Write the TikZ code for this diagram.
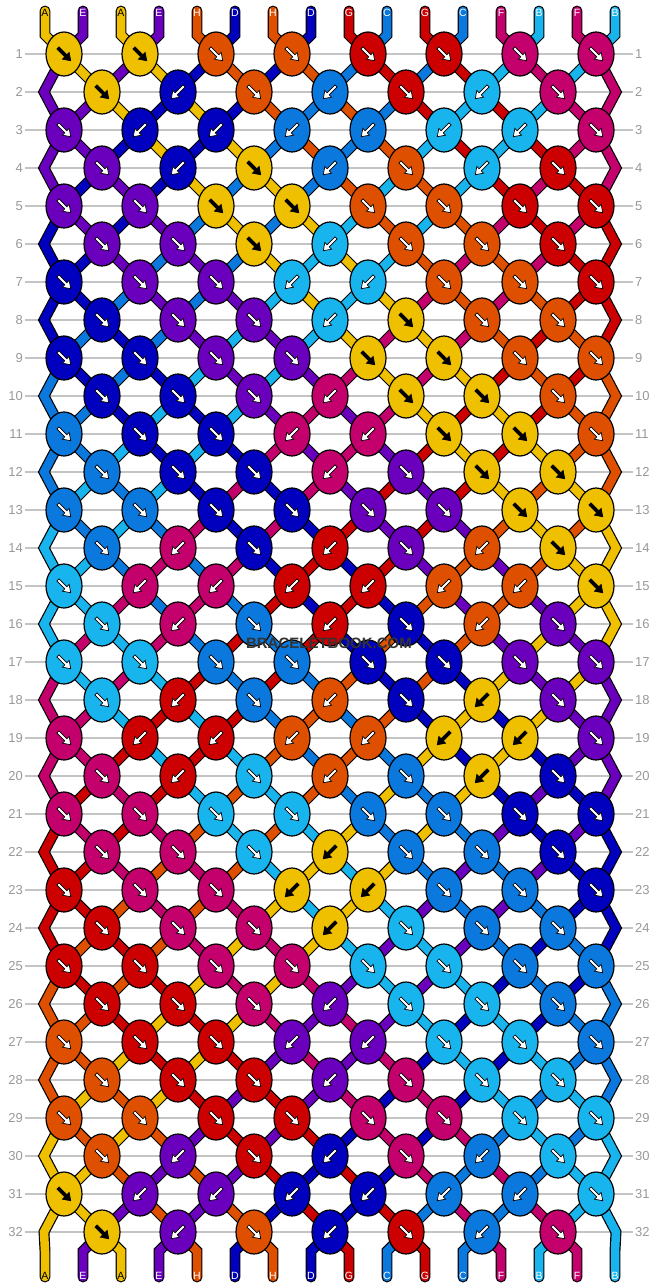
\documentclass[tikz,border=0pt]{standalone}
\usepackage{fontspec}
\setmainfont{Liberation Sans}
\usetikzlibrary{shapes.geometric}

\definecolor{col0}{HTML}{EFC000} % A
\definecolor{col1}{HTML}{DE5000} % H
\definecolor{col2}{HTML}{CC0000} % G
\definecolor{col3}{HTML}{C4006C} % F
\definecolor{col4}{HTML}{18B4EE} % B
\definecolor{col5}{HTML}{0A78DC} % C
\definecolor{col6}{HTML}{0000BE} % D
\definecolor{col7}{HTML}{6A00BE} % E
\definecolor{gridgray}{HTML}{C4C4C4}
\definecolor{numgray}{HTML}{999999}
\definecolor{markgray}{HTML}{333333}

\tikzset{
	strand/.style={draw=black, double=#1, double distance=8.5pt, line width=1.2pt, line cap=round},
	knot/.style={ellipse, draw=black, line width=1.2pt, minimum width=36pt, minimum height=44pt, inner sep=0pt},
	rownum/.style={font=\fontsize{13}{13}\selectfont, text=numgray, inner sep=2pt},
	rowline/.style={gridgray, line width=1.3pt},
	endlabel/.style={font=\fontsize{10.5}{10.5}\selectfont, inner sep=0pt},
	karrow/.pic={\path[pic actions, draw=black, line width=0.7pt] (-8.5,-1.5) -- (2.5,-1.5) -- (2.5,-4.8) -- (9.5,0) -- (2.5,4.8) -- (2.5,1.5) -- (-8.5,1.5) -- cycle;}
}

\begin{document}
\begin{tikzpicture}[x=1pt, y=-1pt]
	\useasboundingbox[fill=white] (0,0) rectangle (658,1288);

	% row numbers and guide lines
	\foreach \row in {1,...,32} {
		\node[rownum, anchor=east] (nl-\row) at (25,{54+38*(\row-1)}) {\row};
		\node[rownum, anchor=west] (nr-\row) at (633,{54+38*(\row-1)}) {\row};
		\draw[rowline] (nl-\row) -- (nr-\row);
	}

	% knot places, 0 and 16 are the turns at the edges
	\foreach \row in {1,...,32}
		\foreach \i in {0,...,16}
			\coordinate (g-\row-\i) at ({max(44,min(616,26+38*\i))},{54+38*(\row-1)});

	\foreach \sn in {1,...,16} {
		\coordinate (st-\sn) at ({45+38*(\sn-1)},11);
		\coordinate (sd-\sn) at ({45+38*(\sn-1)},35);
		\coordinate (bd-\sn) at ({45+38*(\sn-1)},1251);
		\coordinate (bt-\sn) at ({45+38*(\sn-1)},1277);
	}

	% strings: number / phase / colour / letter / letter colour
	\foreach \sn/\uo/\cl/\lab/\tc in {1/0/0/A/black, 2/30/7/E/white, 3/2/0/A/black, 4/28/7/E/white, 5/4/1/H/white, 6/26/6/D/white, 7/6/1/H/white, 8/24/6/D/white, 9/8/2/G/white, 10/22/5/C/white, 11/10/2/G/white, 12/20/5/C/white, 13/12/3/F/white, 14/18/4/B/white, 15/14/3/F/white, 16/16/4/B/white} {
		\draw[strand=col\cl] (st-\sn) -- (sd-\sn)
			\foreach \row [evaluate=\row as \i using {int(min(mod(\uo+\row-1,32),30-mod(\uo+\row-1,32))+1)}] in {1,...,32} { -- (g-\row-\i) }
			-- (bd-\sn) -- (bt-\sn);
		\node[endlabel, text=\tc, yshift=-2pt] (lt-\sn) at (st-\sn) {\lab};
		\node[endlabel, text=\tc, yshift=1pt] (lb-\sn) at (bt-\sn) {\lab};
	}

	% knots, r = forward, l = backward
	\foreach \row/\dirs in {
		1/{r,r,r,r,r,r,r,r}, 2/{r,l,r,l,r,l,r}, 3/{r,l,l,l,l,l,l,r}, 4/{r,l,r,l,r,l,r},
		5/{r,r,r,r,r,r,r,r}, 6/{r,r,r,l,r,r,r}, 7/{r,r,r,l,l,r,r,r}, 8/{r,r,r,l,r,r,r},
		9/{r,r,r,r,r,r,r,r}, 10/{r,r,r,l,r,r,r}, 11/{r,r,r,l,l,r,r,r}, 12/{r,r,r,l,r,r,r},
		13/{r,r,r,r,r,r,r,r}, 14/{r,l,r,l,r,l,r}, 15/{r,l,l,l,l,l,l,r}, 16/{r,l,r,l,r,l,r},
		17/{r,r,r,r,r,r,r,r}, 18/{r,l,r,l,r,l,r}, 19/{r,l,l,l,l,l,l,r}, 20/{r,l,r,l,r,l,r},
		21/{r,r,r,r,r,r,r,r}, 22/{r,r,r,l,r,r,r}, 23/{r,r,r,l,l,r,r,r}, 24/{r,r,r,l,r,r,r},
		25/{r,r,r,r,r,r,r,r}, 26/{r,r,r,l,r,r,r}, 27/{r,r,r,l,l,r,r,r}, 28/{r,r,r,l,r,r,r},
		29/{r,r,r,r,r,r,r,r}, 30/{r,l,r,l,r,l,r}, 31/{r,l,l,l,l,l,l,r}, 32/{r,l,r,l,r,l,r}} {
		\foreach \dir [count=\j from 0] in \dirs {
			\pgfmathtruncatemacro\p{2*\j+2-mod(\row,2)}
			\if\dir r
				\pgfmathtruncatemacro\idx{floor(mod(\p-\row+64,32)/4)}
				\def\ang{-45}
			\else
				\pgfmathtruncatemacro\idx{floor(mod(64-\p-\row,32)/4)}
				\def\ang{-135}
			\fi
			\ifnum\idx=0 \def\af{black}\else\def\af{white}\fi
			\node[knot, fill=col\idx] (k-\row-\j) at (g-\row-\p) {};
			\pic[rotate=\ang, fill=\af] at (k-\row-\j) {karrow};
		}
	}

	\node[font=\bfseries\fontsize{15}{15}\selectfont, text=markgray] (mark) at (329,643) {BRACELETBOOK.COM};
\end{tikzpicture}
\end{document}
